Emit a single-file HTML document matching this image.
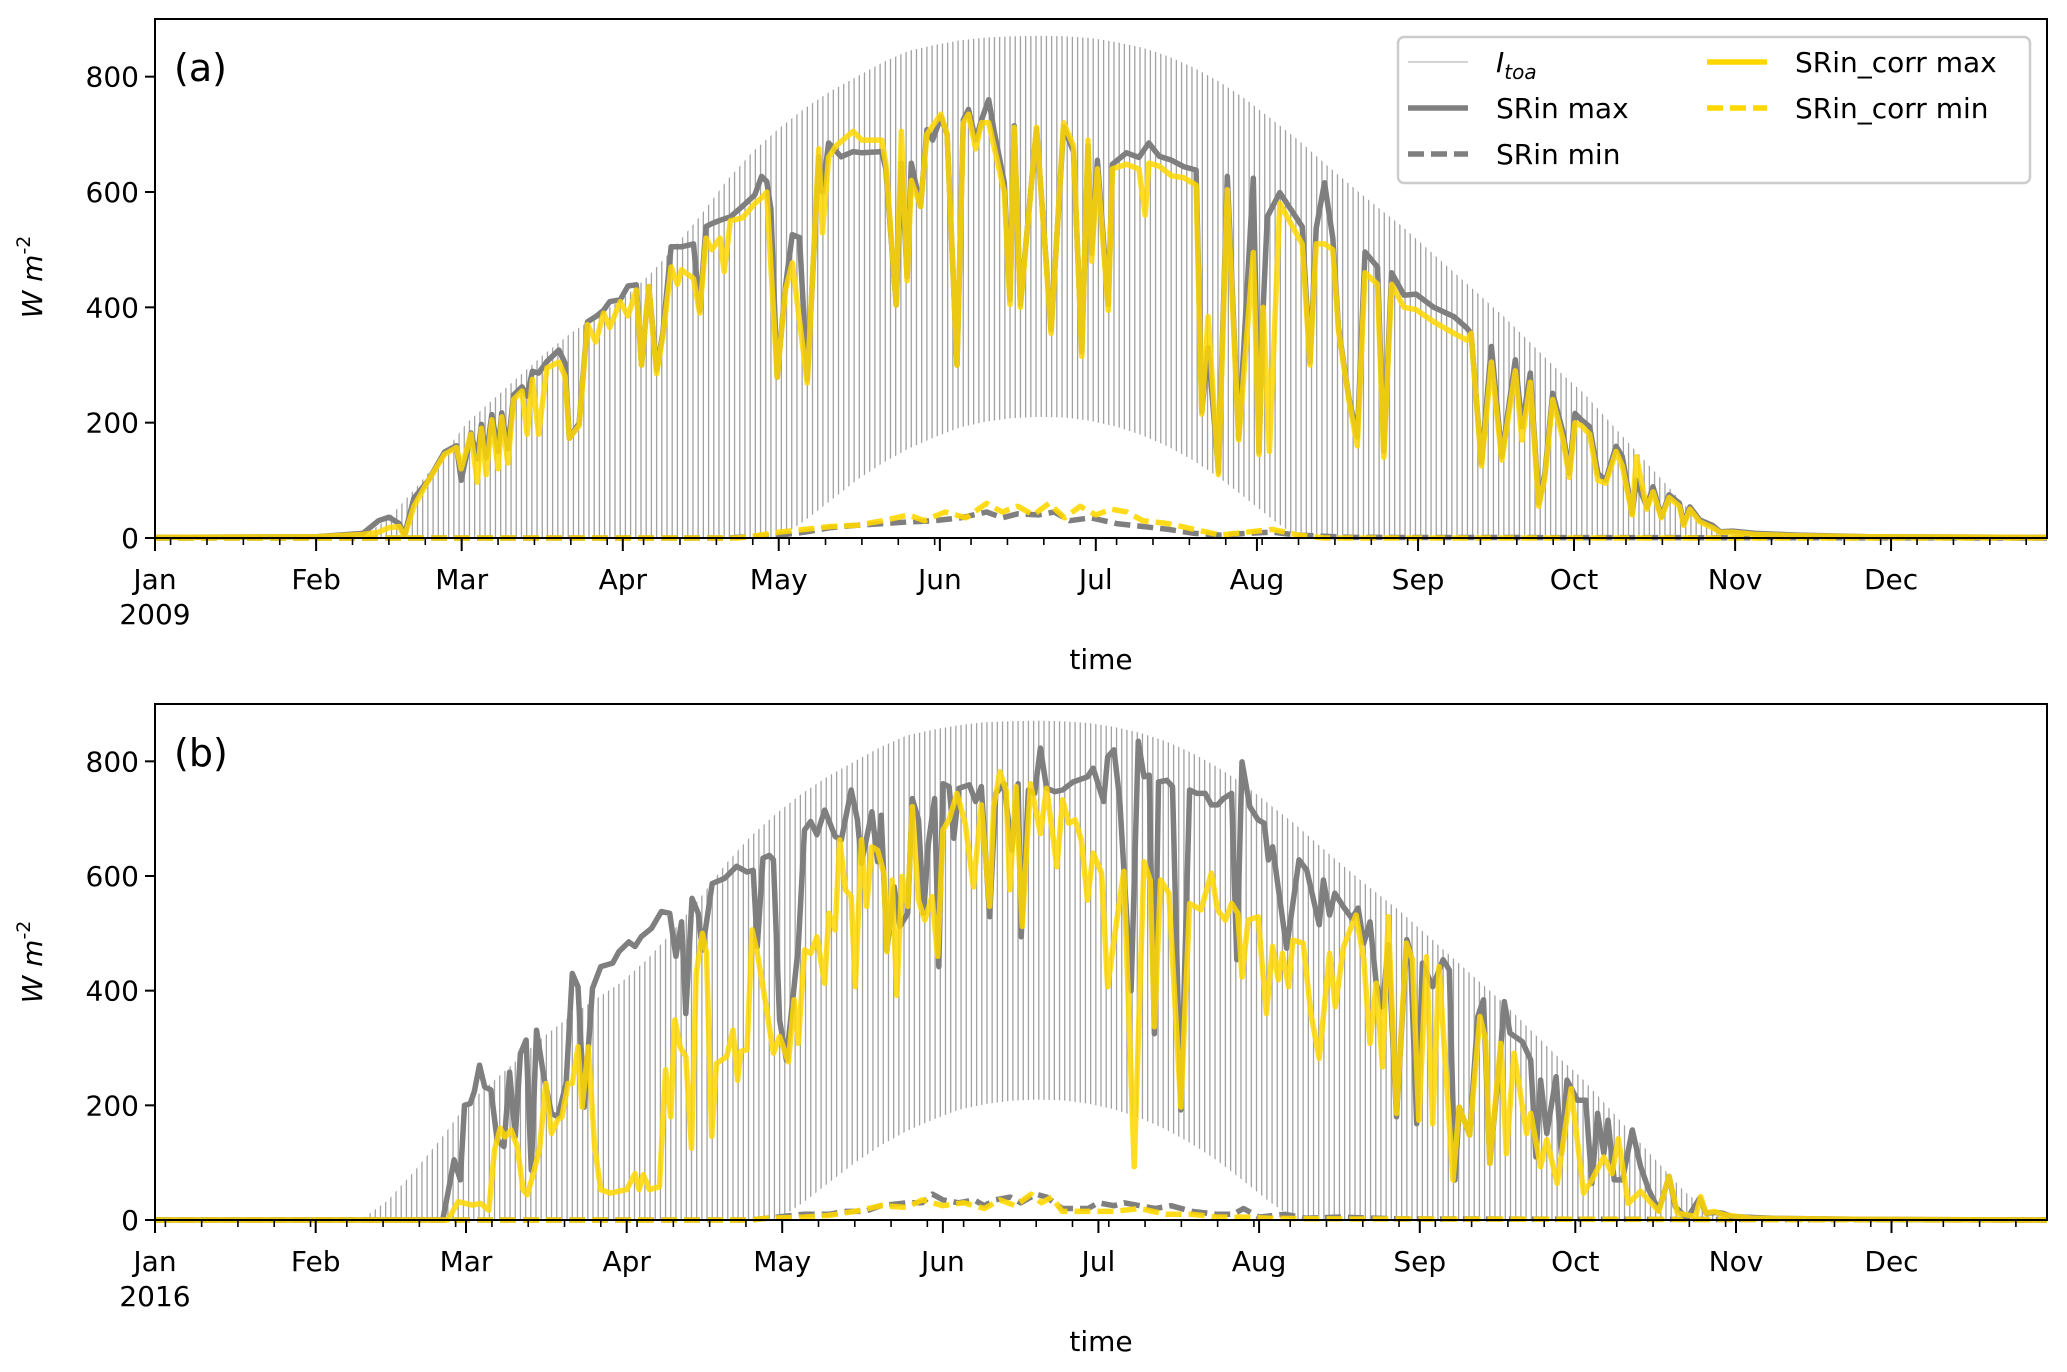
<!DOCTYPE html>
<html><head><meta charset="utf-8"><style>
html,body{margin:0;padding:0;background:#fff;}
svg{display:block;font-family:"DejaVu Sans","Liberation Sans",sans-serif;}
</style></head>
<body>
<svg id="chart" width="2067" height="1372" viewBox="0 0 2067 1372" xmlns="http://www.w3.org/2000/svg">
<rect x="0" y="0" width="2067" height="1372" fill="#fff"/>
<g id="layer"></g>
</svg>
<script>
// ---------- data ----------
const monthLabels = ["Jan","Feb","Mar","Apr","May","Jun","Jul","Aug","Sep","Oct","Nov","Dec"];
const monthStartA = [0,31,59,90,120,151,181,212,243,273,304,334];
const monthStartB = [0,31,60,91,121,152,182,213,244,274,305,335];
const yTicks = [0,200,400,600,800];
const yearA = "2009";
const yearB = "2016";

const itoaDays = [0,35,40,45,50,55,60,65,70,75,80,85,90,95,100,105,110,115,120,125,130,135,140,145,150,155,160,165,170,175,180,185,190,195,200,205,210,215,220,225,230,235,240,245,250,255,260,265,270,275,280,285,290,295,300,305,310,364];
const itoaMax = [0,0,2,35,85,140,200,240,280,320,355,385,415,455,505,560,620,670,710,745,775,800,825,845,855,863,868,870,871,870,867,860,850,835,815,790,760,725,690,650,612,575,540,500,460,420,380,335,290,250,200,150,100,50,15,2,0,0];
const itoaMinDays = [0,120,125,130,135,140,145,150,155,160,165,170,175,180,185,190,195,200,205,210,215,220,364];
const itoaMin = [0,0,30,65,100,130,155,175,192,202,208,210,209,203,193,178,158,133,103,68,32,0,0];

// panel (a) SRin max
const aMaxDays = [0,31,40,43,45,47,48,49.8,52.6,55.7,58,58.9,60.8,62,62.8,63.7,64.8,66,66.7,67.9,69,70.6,71.6,72.6,73.8,75.4,77.7,78.9,79.7,81.6,83.2,84.8,86.3,87.5,89.5,91,92.6,93.6,95,96.5,97.7,99.3,101.3,103.6,104.8,106,107.1,108.7,110.7,113,115.4,116.7,117.7,118.5,119.7,121.3,122.6,124,125.5,127.7,128.4,129.6,132,134.3,136,139.8,140.6,142.6,143.6,144.7,145.5,147.3,148.5,149.6,151.2,152.4,154.3,155.5,156.5,157.9,159,160.4,161.4,163.4,164.5,165.3,166.5,169.6,172.4,174.8,176.7,178.3,179.5,180.2,181.3,183.4,184.2,186.9,189.3,191.2,193.2,195.6,197.9,200.3,201.4,202.6,204.6,206.3,208.5,211.3,212.4,213.2,214,216.4,220.7,222.2,223.4,225,226.6,227.7,229.7,231.3,232.8,235.2,236.4,237.9,240.3,242.6,246,249.9,252.4,253.2,255.2,257.1,259.1,261.7,263,264.6,266.2,267.4,268.9,270.9,272.1,273.2,274.4,276,277.6,279.1,281.1,282.3,284.2,285,287,288.2,289.8,291.3,293.3,294.1,295.3,297.2,299.6,301.1,303.5,308,316,330,364];
const aMaxVals = [1,2,8,30,36,25,5,69,100,149,160,100,182,137,197,139,214,150,217,155,248,262,246,289,286,306,326,303,173,199,375,384,395,410,413,437,439,300,436,292,355,505,505,510,395,540,545,551,557,575,595,627,618,570,279,437,526,521,275,661,600,685,661,670,668,670,640,404,650,453,650,575,708,690,730,700,300,725,743,690,725,760,708,616,413,715,405,710,361,713,670,323,680,494,655,405,648,668,660,685,662,655,644,638,219,330,115,627,173,624,149,400,557,599,540,305,537,616,520,364,243,175,496,470,150,460,421,423,400,384,364,355,130,332,141,309,193,286,60,112,251,182,112,216,205,193,112,100,159,141,43,100,54,89,37,75,60,25,54,31,22,11,12,8,5,2,1];
// panel (a) SRin_corr max
const aCorrDays = [0,31,40,43,45,47,48,49.8,52.6,55.7,58,58.9,60.8,62,62.8,63.7,64.8,66,66.7,67.9,69,70.6,71.6,72.6,73.8,75.4,77.7,78.9,79.7,81.6,83.2,84.8,86.3,87.5,89.5,91,92.6,93.6,95,96.5,97.7,99.3,100.5,101.3,103.6,104.8,106,107.1,108.7,109.5,110.7,113,115.4,116.7,117.7,118.5,119.7,121.3,122.6,125.5,127.7,128.4,129.6,131,134.3,136,139.8,140.6,142.6,143.6,144.7,145.5,147.3,148.5,151.2,152.4,154.3,155.5,156.5,157.9,159,160.4,161.4,163.4,164.5,165.3,166.5,169.6,172.4,174.8,176.7,178.3,179.5,180.2,181.3,183.4,184.2,186.9,189.3,190.5,191.2,193.2,195.6,197.9,200.3,201.4,202.6,204.6,206.3,208.5,211.3,212.4,213.2,214.4,216.4,220.7,222.2,223.4,225,226.6,227.7,229.7,231.3,232.8,235.2,236.4,237.9,240.3,242.6,246,249.9,252.4,253.2,255.2,257.1,259.1,261.7,263,264.6,266.2,267.4,268.9,270.9,272.1,273.2,274.4,276,277.6,279.1,281.1,282.3,284.2,285,287,288.2,289.8,291.3,293.3,294.1,295.3,297.2,299.6,301.1,303.5,308,316,330,364];
const aCorrVals = [1,2,6,10,18,20,3,55,100,145,157,120,180,97,190,110,205,120,210,130,240,255,180,275,180,295,305,280,173,195,370,340,390,365,410,385,430,300,436,285,350,470,440,465,450,390,520,500,520,462,550,555,580,590,600,470,279,430,477,269,675,529,660,680,705,690,690,650,404,705,446,620,575,700,735,700,300,720,735,675,720,720,680,600,405,712,400,712,355,720,680,315,690,480,640,395,640,648,640,560,650,645,628,625,612,215,384,110,604,170,495,145,400,150,580,510,300,510,510,500,360,240,160,460,440,140,440,400,396,375,355,343,355,125,305,135,290,170,270,55,105,240,170,105,200,195,180,100,95,150,125,40,141,50,80,35,70,55,22,50,28,18,10,10,6,4,2,1];
// panel (a) min series
const aMinDays = [0,110,120,125,130,135,140,145,150,155,160,163,166,170,173,176,180,185,190,195,200,205,210,215,220,230,364];
const aMinVals = [0,0,5,10,18,22,25,28,30,35,45,35,42,40,45,30,35,25,20,15,8,5,8,10,5,1,0];
const aCorrMinDays = [0,112,115,120,125,130,135,140,145,148,152,156,160,163,166,169,172,175,178,181,184,187,190,195,200,205,210,215,220,225,364];
const aCorrMinVals = [0,0,3,10,15,20,22,30,40,30,45,35,60,45,55,40,60,35,55,40,50,45,30,25,15,5,10,15,5,0,0];

// panel (b) SRin max
const bMaxDays = [0,55.5,56.5,57.7,58.9,59.7,60.8,61.6,62.6,63.6,64.8,66,67.3,68.4,69.5,70.5,71.6,72.6,73.6,75,76.5,77.7,79.3,80.5,81.6,82.8,84.4,86,88.3,89.5,91.4,92.6,93.8,95.8,97.7,99.3,100.5,101.6,102.4,103.6,104.8,105.6,107.5,109.9,112.2,114.2,115.4,116.2,117.3,118.5,119.3,120.5,121.8,124.1,125.3,126.5,127.7,129.2,131.2,132.4,134.3,135.5,136.3,138.3,139.4,140.1,141.2,142.6,143.7,145.2,146.1,147.3,148.3,149.2,150.4,151.2,152,153.2,154.1,155.1,157.1,158.3,159.4,161,162.2,163.8,165.3,166.5,167.1,168.5,169.7,170.8,172,173.6,175.1,177.1,179.9,181,183,183.8,185,186.1,188.3,189.7,190.8,191.8,192.8,193.6,195.2,196.3,197.9,199.6,201,202.6,203.8,205,206.1,207.7,208.7,209.7,211.2,212.8,214,214.8,215.6,218.3,220.7,222.2,224.6,225.4,226.6,227.6,229.3,230.9,232.1,233.2,234.4,235.6,236.8,237.9,239.5,241.5,242.2,243.4,244.5,246.5,248.5,249.7,250.8,251.6,253.6,255.2,256.3,257.5,259.5,260.3,261.4,263.8,265.4,266.4,267.3,268.5,270.3,271.3,272.4,274.4,276,277.2,278.3,279.5,280.3,281.5,283.1,285,286.6,288.2,290.1,292.1,293.3,295.6,298,299.2,301.1,302.3,304.3,312,330,365];
const bMaxVals = [0,0,47,105,70,200,203,224,270,232,227,140,128,258,146,290,314,87,331,250,186,180,238,430,407,197,404,442,448,468,485,477,494,509,538,535,460,520,360,561,535,471,587,596,617,607,610,477,631,636,628,349,279,477,680,695,672,715,669,663,750,698,622,712,625,706,471,581,512,535,735,698,535,657,735,442,761,756,666,753,759,730,756,529,744,761,645,761,494,750,744,823,753,747,750,764,773,788,730,808,820,733,400,835,773,776,325,764,767,756,192,750,744,744,724,724,735,744,454,799,721,698,692,628,651,474,628,610,515,593,532,570,546,526,544,483,520,413,372,480,180,489,465,168,448,407,454,436,70,197,148,355,384,99,285,381,326,311,279,110,244,151,250,116,244,209,209,64,186,116,174,70,70,157,93,52,17,76,23,3,38,12,13,12,6,3,1,0];
// panel (b) SRin_corr max
const bCorrDays = [0,56.5,58.5,61.2,62.8,64.4,65.5,66.6,67.5,68.7,69.9,71,71.8,73,74.2,75.4,76.5,77.7,78.5,79.7,80.5,81.6,82.4,83.6,84.8,86,87.9,91,92.6,93.4,94.2,95.4,97.3,98.5,99.5,100.3,101.3,102.4,103.5,104.4,105.6,106.4,107.4,108.3,110.3,111.5,112.4,113,114.2,115.2,116.2,117.7,119.3,120.5,122.2,123.3,124.1,125.3,126.5,127.7,129.2,130,131.2,132.1,133.2,134.3,135.1,136.3,137.3,138.3,139.4,140.6,141.2,142.2,143.1,144.1,145.2,146.1,147.3,148.5,149.9,151,152,153.2,154.7,156.3,157.9,159.4,161,161.8,163,164.2,164.9,166.1,167.3,168.9,170.8,172,174,175.1,176.3,177.5,178.7,179.9,181,182.6,183.8,185,186.9,188.9,190.8,192,192.8,194,195.6,197.9,199.6,201.8,203.8,205,206.5,207.7,208.9,209.7,210.9,212.8,214.4,215.6,216.7,217.5,218.7,219.5,221.5,223,224.6,226.6,227.7,229.3,231.7,233.2,234.4,235.6,236.8,237.9,239.5,241.4,242.6,243.8,245.3,246.5,247.7,250.4,251.6,253.6,255.6,256.7,257.5,259.6,260.7,262.2,264.6,265.4,267.3,268.5,270.5,273.2,275.6,277.2,279.5,281.1,282.3,284.2,286.6,290.1,292.1,293.7,297.2,298.2,299.2,300.8,302.7,308.2,330,365];
const bCorrVals = [0,0,32,26,29,17,122,160,145,157,128,53,44,81,125,238,151,175,180,238,238,302,197,302,128,53,47,53,81,53,79,53,58,262,180,349,302,285,125,430,500,465,146,273,285,331,244,294,297,506,465,384,291,320,276,384,308,471,465,494,413,535,506,663,576,564,407,663,547,651,645,605,468,593,392,599,547,721,558,523,564,460,680,698,744,692,581,724,547,721,782,750,576,756,512,761,674,753,616,733,692,698,663,558,640,605,407,488,608,93,625,593,337,593,570,197,552,541,605,541,523,552,535,424,523,529,360,477,419,465,407,488,483,360,282,465,372,477,532,454,308,413,267,529,186,483,454,174,459,168,442,70,197,148,355,314,99,308,116,291,151,186,93,140,64,229,47,70,110,81,142,29,50,15,76,12,6,41,12,15,9,3,1,0];
// panel (b) min series
const bMinDays = [0,115,120,125,130,133,137,140,145,148,150,152,155,158,160,162,165,167,170,172,175,180,182,185,187,190,193,196,200,205,208,210,213,218,222,228,240,365];
const bMinVals = [0,0,5,10,10,15,15,25,30,30,45,35,30,35,25,35,40,30,45,40,20,20,30,25,30,25,20,25,15,10,10,20,5,10,3,5,2,0];
const bCorrMinDays = [0,115,118,125,130,135,140,145,148,152,156,160,163,166,169,171,173,175,180,185,190,195,200,205,210,215,225,365];
const bCorrMinVals = [0,0,3,5,8,15,25,22,35,25,30,20,35,25,45,30,40,15,15,15,20,10,10,5,5,3,2,0];

// ---------- drawing ----------
const NS = "http://www.w3.org/2000/svg";
const layer = document.getElementById("layer");
function mk(tag, attrs, parent){
  const e = document.createElementNS(NS, tag);
  for (const k in attrs) e.setAttribute(k, attrs[k]);
  (parent||layer).appendChild(e);
  return e;
}
const L = 155, R = 2047;

function drawPanel(cfg){
  const {id, top, bottom, span, months, year, maxD, maxV, corrD, corrV, minD, minV, cminD, cminV, letter, labelY} = cfg;
  const xScale = d => L + d / span * (R - L);
  const yScale = v => bottom - v / 900 * (bottom - top);
  const g = mk("g", {});
  
  

  const defs = mk("defs", {}, g);
  const clip = mk("clipPath", {id: "clip-" + id}, defs);
  let pts = itoaDays.map((d,i)=> xScale(d).toFixed(1)+","+yScale(itoaMax[i]).toFixed(1));
  const lower = itoaMinDays.map((d,i)=> xScale(d).toFixed(1)+","+yScale(itoaMin[i]).toFixed(1)).reverse();
  mk("polygon", {points: pts.concat(lower).join(" ")}, clip);
  const itoa = mk("g", {"clip-path": "url(#clip-" + id + ")"}, g);
  
  
  for (let d = 0; d <= span; d++) {
    const x = xScale(d + 0.5);
    mk("line", {x1: x, x2: x, y1: top, y2: bottom, stroke: "#a2a2a2", "stroke-width": 1.3}, itoa);
  }

  function series(days, vals, color, width, dash, name, opacity){
    const d = days.map((dd,i)=> (i? "L":"M") + xScale(dd).toFixed(1) + "," + yScale(vals[i]).toFixed(1)).join("");
    const p = mk("path", {d: d, fill: "none", stroke: color, "stroke-width": width, "stroke-linejoin": "round", "stroke-opacity": opacity}, g);
    if (dash) p.setAttribute("stroke-dasharray", dash);
    
    
  }
  series(minD, minV, "#7f7f7f", 5.5, "16,7", "srin-min-line", 1);
  series(cminD, cminV, "#ffd700", 5.5, "16,7", "srin-corr-min-line", 0.9);
  series(maxD, maxV, "#7f7f7f", 5.5, null, "srin-max-line", 1);
  series(corrD, corrV, "#ffd700", 5.5, null, "srin-corr-max-line", 0.85);

  const fr = mk("rect", {x: L, y: top, width: R-L, height: bottom-top, fill: "none", stroke: "#000", "stroke-width": 2}, g);
  
  

  yTicks.forEach(v => {
    const y = yScale(v);
    mk("line", {x1: L-10, x2: L, y1: y, y2: y, stroke: "#000", "stroke-width": 2}, g);
    const t = mk("text", {x: L-16, y: y+10, "font-size": 28, "text-anchor": "end", fill: "#000"}, g);
    t.textContent = v;
    
    
  });
  const firstSunday = (id === "a") ? 3 : 2;
  for (let d = firstSunday; d <= span; d += 7) {
    const x = xScale(d);
    mk("line", {x1: x, x2: x, y1: bottom, y2: bottom+7, stroke: "#000", "stroke-width": 1.6}, g);
  }
  months.forEach((d, i) => {
    const x = xScale(d);
    mk("line", {x1: x, x2: x, y1: bottom, y2: bottom+13, stroke: "#000", "stroke-width": 2}, g);
    const t = mk("text", {x: x, y: bottom+51, "font-size": 28, "text-anchor": "middle", fill: "#000"}, g);
    t.textContent = monthLabels[i];
    
    
  });
  const yr = mk("text", {x: xScale(0), y: bottom+86, "font-size": 28, "text-anchor": "middle", fill: "#000"}, g);
  yr.textContent = year;
  
  

  const xt = mk("text", {x: 1101, y: bottom+131, "font-size": 28, "text-anchor": "middle", fill: "#000"}, g);
  xt.textContent = "time";
  
  

  const yl = mk("text", {x: 0, y: 0, "font-size": 28, "text-anchor": "middle", fill: "#000", transform: "translate(42," + labelY + ") rotate(-90)"}, g);
  
  
  const t1 = mk("tspan", {"font-style": "italic"}, yl); t1.textContent = "W m";
  const t2 = mk("tspan", {dy: -12, "font-size": 19}, yl); t2.textContent = "-2";

  const pl = mk("text", {x: 174, y: top+62, "font-size": 38, fill: "#000"}, g);
  pl.textContent = letter;
  
  
}

drawPanel({id:"a", top:19, bottom:538, span:364, months:monthStartA, year:yearA, maxD:aMaxDays, maxV:aMaxVals, corrD:aCorrDays, corrV:aCorrVals, minD:aMinDays, minV:aMinVals, cminD:aCorrMinDays, cminV:aCorrMinVals, letter:"(a)", labelY:277});
drawPanel({id:"b", top:704, bottom:1220, span:365, months:monthStartB, year:yearB, maxD:bMaxDays, maxV:bMaxVals, corrD:bCorrDays, corrV:bCorrVals, minD:bMinDays, minV:bMinVals, cminD:bCorrMinDays, cminV:bCorrMinVals, letter:"(b)", labelY:962});

const lg = mk("g", {});


mk("rect", {x: 1398, y: 37, width: 632, height: 146, rx: 6, fill: "#fff", "fill-opacity": 0.85, stroke: "#cccccc", "stroke-width": 2.5}, lg);
const entries = [
  {x:1408, y:62, color:"#bbbbbb", w:1.3, dash:null, label:"I", sub:"toa", name:"legend-entry-itoa"},
  {x:1408, y:108, color:"#7f7f7f", w:5.5, dash:null, label:"SRin max", name:"legend-entry-srin-max"},
  {x:1408, y:154, color:"#7f7f7f", w:5.5, dash:"16,7", label:"SRin min", name:"legend-entry-srin-min"},
  {x:1707, y:62, color:"#ffd700", w:5.5, dash:null, label:"SRin_corr max", name:"legend-entry-srin-corr-max"},
  {x:1707, y:108, color:"#ffd700", w:5.5, dash:"16,7", label:"SRin_corr min", name:"legend-entry-srin-corr-min"}
];
entries.forEach(e => {
  const eg = mk("g", {}, lg);
  
  
  const ln = mk("line", {x1: e.x, x2: e.x+60, y1: e.y, y2: e.y, stroke: e.color, "stroke-width": e.w}, eg);
  if (e.dash) ln.setAttribute("stroke-dasharray", e.dash);
  const t = mk("text", {x: e.x+88, y: e.y+10, "font-size": 28, fill: "#000"}, eg);
  if (e.sub) {
    const a = mk("tspan", {"font-style": "italic"}, t); a.textContent = e.label;
    const b = mk("tspan", {"font-style": "italic", "font-size": 20, dy: 7}, t); b.textContent = e.sub;
  } else {
    t.textContent = e.label;
  }
});
</script>
</body></html>
